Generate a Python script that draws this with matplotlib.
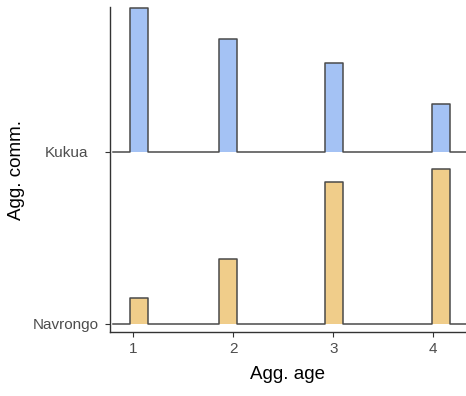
import matplotlib
matplotlib.use("Agg")
import matplotlib.pyplot as plt

# communities (bottom to top) and histogram bins per age
communities = ["Navrongo", "Kukua"]
bin_left = [0.97, 1.86, 2.92, 3.99]
bin_width = 0.18
heights = {
    "Kukua": [0.832, 0.652, 0.513, 0.277],
    "Navrongo": [0.151, 0.377, 0.824, 0.901],
}
fills = {"Kukua": "#a4c2f4", "Navrongo": "#f0cd8a"}
x_ticks = [1, 2, 3, 4]

plt.rcParams['font.family'] = ['Liberation Sans', 'DejaVu Sans']

fig = plt.figure(figsize=(4.66, 3.96), dpi=100)
ax = fig.add_axes([110 / 466, (396 - 332.3) / 396, 356 / 466, (332.3 - 7) / 396])

#draw each ridge as a stepped outline, lower ridges on top
for i in range(len(communities) - 1, -1, -1):
    name = communities[i]
    base = i + 1
    xs = [0.794]
    ys = [base]
    for left, h in zip(bin_left, heights[name]):
        xs += [left, left, left + bin_width, left + bin_width]
        ys += [base, base + h, base + h, base]
    xs.append(4.5)
    ys.append(base)
    ax.fill_between(xs, base, ys, color=fills[name], lw=0, zorder=2 + (2 - i))
    ax.plot(xs, ys, color="#4a4a4a", lw=1.1, zorder=2.5 + (2 - i))

ax.set_xlim(0.767, 4.327)
ax.set_ylim(0.95, 2.84)

ax.set_xticks(x_ticks)
ax.set_xticklabels([str(t) for t in x_ticks])
ax.set_yticks([1, 2])
ax.set_yticklabels(communities, ha="center")
ax.tick_params(axis="y", pad=28, length=3.5, color="#333333", labelsize=11, labelcolor="#4d4d4d")
ax.tick_params(axis="x", length=3.5, color="#333333", labelsize=11, labelcolor="#4d4d4d")

for side in ["top", "right"]:
    ax.spines[side].set_visible(False)
for side in ["left", "bottom"]:
    ax.spines[side].set_color("#333333")
    ax.spines[side].set_linewidth(1.0)

ax.set_xlabel("Agg. age", fontsize=13.5, labelpad=7)
ax.set_ylabel("Agg. comm.", fontsize=13.5, labelpad=6)

fig.savefig("out.png", dpi=100)
